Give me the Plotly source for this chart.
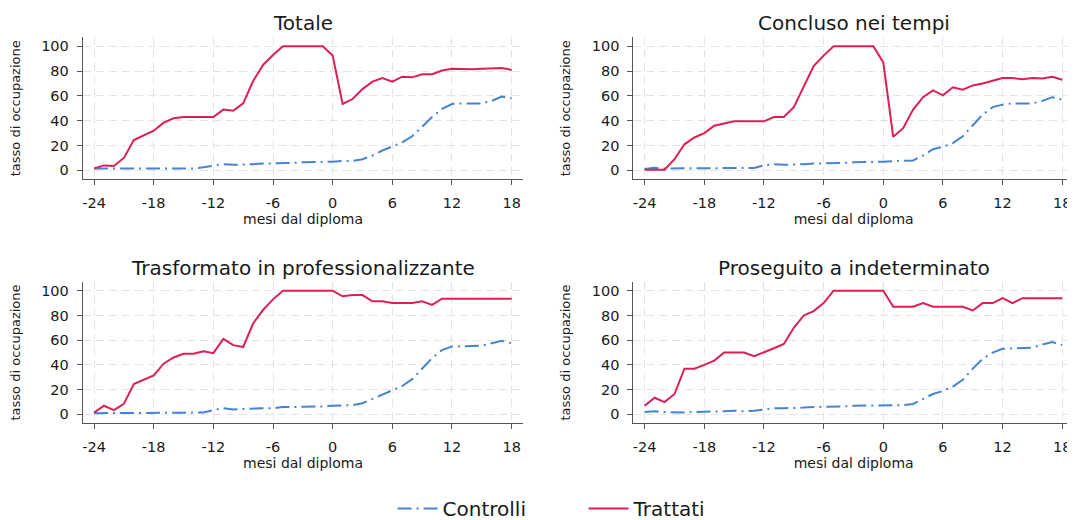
import plotly.graph_objects as go
from plotly.subplots import make_subplots

# ── DATA ─────────────────────────────────────────────────────────────────
MONTHS = list(range(-24, 19))
TITLES = ['Totale', 'Concluso nei tempi',
          'Trasformato in professionalizzante', 'Proseguito a indeterminato']
X_TICKS = [-24, -18, -12, -6, 0, 6, 12, 18]
X_TICKTEXT = ['-24', '-18', '-12', '-6', '0', '6', '12', '18']
Y_TICKS = [0, 20, 40, 60, 80, 100]

# Totale
TOT_TRATTATI = [1.5, 4, 3.5, 10, 24.5, 28.5, 32, 38.5, 42, 43, 43, 43, 43, 49, 48,
                54, 72, 85, 93, 100, 100, 100, 100, 100, 92.5, 53.5, 57.5, 65.5,
                71.5, 74.5, 71.5, 75.5, 75, 77.5, 77.5, 80.5, 82, 81.5, 81.5, 82,
                82, 82.5, 81]
TOT_CONTROLLI = [1.5, 1.5, 1, 1, 1, 1.5, 1.5, 1.5, 1.5, 1.5, 1.5, 2.5, 4, 5, 4.5,
                 4.5, 5, 5.5, 5.5, 6, 6, 6.5, 6.5, 6.5, 7, 7.5, 7.5, 9, 12, 16, 19,
                 22.5, 27.5, 35, 43, 49.5, 53.5, 54, 54, 54, 56, 59.5, 58]

# Concluso nei tempi
CON_TRATTATI = [0.5, 0.5, 0.5, 9, 21, 26.5, 30, 36, 37.5, 39.5, 39.5, 39.5, 39.5,
                43, 43, 51, 67, 84, 92.5, 100, 100, 100, 100, 100, 87, 27, 34, 49,
                59, 64.5, 60.5, 67, 65, 68.5, 70, 72, 74.5, 74.5, 73.5, 74.5, 74,
                75.5, 73]
CON_CONTROLLI = [1, 2, 1.5, 1.5, 1.5, 1.5, 2, 2, 2, 2, 1.5, 2, 4, 5, 4.5, 4.5, 5,
                 5.5, 5.5, 6, 6, 6.5, 6.5, 6.5, 7, 7.5, 7.5, 8, 12, 17, 19, 22,
                 27.5, 36, 45, 51, 53, 54, 54, 54, 56, 59, 57]

# Trasformato in professionalizzante
TRA_TRATTATI = [1.5, 7, 3.5, 8.5, 24.5, 28, 31.5, 41, 46, 49, 49, 51, 49.5, 61, 56,
                54.5, 73.5, 84.5, 93, 100, 100, 100, 100, 100, 100, 95.5, 96.5,
                96.5, 91.5, 91.5, 90, 90, 90, 91.5, 88.5, 93.5, 93.5, 93.5, 93.5,
                93.5, 93.5, 93.5, 93.5]
TRA_CONTROLLI = [1, 1, 1, 1, 1, 1, 1, 1, 1.5, 1.5, 1.5, 1.5, 3.5, 5, 4, 4.5, 5, 5,
                 5, 6, 6, 6, 6, 6.5, 7, 7.5, 7.5, 9, 12.5, 16.5, 20, 23, 28.5, 37,
                 45.5, 52, 55, 55, 55, 55.5, 57.5, 59.5, 57.5]

# Proseguito a indeterminato
PRO_TRATTATI = [7, 13.5, 10, 16.5, 37, 37, 40, 43.5, 50, 50, 50, 47, 50, 53.5, 57,
                70, 80, 83.5, 90, 100, 100, 100, 100, 100, 100, 87, 87, 87, 90, 87,
                87, 87, 87, 84, 90, 90, 94, 90, 94, 94, 94, 94, 94]
PRO_CONTROLLI = [2, 2.5, 2, 1.5, 1.5, 2, 2, 2, 2.5, 3, 2.5, 3, 4, 5, 5, 5, 5.5, 6,
                 6, 6, 6.5, 7, 7, 7, 7.5, 7.5, 7.5, 8.5, 12.5, 16.5, 19, 22.5, 28,
                 37, 45, 50, 53, 53.5, 53.5, 54, 56.5, 58.5, 56]

PANELS = [
    (TOT_CONTROLLI, TOT_TRATTATI),
    (CON_CONTROLLI, CON_TRATTATI),
    (TRA_CONTROLLI, TRA_TRATTATI),
    (PRO_CONTROLLI, PRO_TRATTATI),
]

# ── STYLE ────────────────────────────────────────────────────────────────
FONT = 'DejaVu Sans'
RED = '#DC1F55'
BLUE = '#4683D2'
AXIS_COL = '#555555'
GRID_COL = '#e4e4e4'
TXT = '#1a1a1a'

fig = make_subplots(rows=2, cols=2, subplot_titles=TITLES)

for i, (ctrl, trat) in enumerate(PANELS):
    r, c = i // 2 + 1, i % 2 + 1
    fig.add_trace(go.Scatter(
        x=MONTHS, y=ctrl, mode='lines', name='Controlli',
        line=dict(color=BLUE, width=2, dash='14px,5px,2px,5px'),
        showlegend=(i == 0)), row=r, col=c)
    fig.add_trace(go.Scatter(
        x=MONTHS, y=trat, mode='lines', name='Trattati',
        line=dict(color=RED, width=2),
        showlegend=(i == 0)), row=r, col=c)

# the page body adds an 8px offset, domains are set to compensate
x_domains = [[0.0695, 0.4794], [0.5817, 0.9916]]
y_domains = [[0.6706, 0.9437], [0.2013, 0.4737]]

for i in range(4):
    r, c = i // 2, i % 2
    fig.update_xaxes(
        domain=x_domains[c], range=[-25.14, 19.18],
        tickvals=X_TICKS, ticktext=X_TICKTEXT,
        showgrid=True, gridcolor=GRID_COL, gridwidth=1, griddash='8px,5px',
        showline=True, linecolor=AXIS_COL, linewidth=1,
        ticks='outside', ticklen=5, tickcolor=AXIS_COL, ticklabelstandoff=5,
        zeroline=False, automargin=False,
        tickfont=dict(family=FONT, size=14.5, color=TXT),
        title=dict(text='mesi dal diploma', standoff=4,
                   font=dict(family=FONT, size=14, color=TXT)),
        row=r + 1, col=c + 1)
    fig.update_yaxes(
        domain=y_domains[r], range=[-7.2, 107.3],
        tickvals=Y_TICKS,
        showgrid=True, gridcolor=GRID_COL, gridwidth=1, griddash='8px,5px',
        showline=True, linecolor=AXIS_COL, linewidth=1,
        ticks='outside', ticklen=5, tickcolor=AXIS_COL, ticklabelstandoff=5,
        zeroline=False, automargin=False,
        tickfont=dict(family=FONT, size=14.5, color=TXT),
        title=dict(text='tasso di occupazione', standoff=18,
                   font=dict(family=FONT, size=13, color=TXT)),
        row=r + 1, col=c + 1)

# subplot titles centred over each plot area
title_y = [0.9706, 0.9706, 0.5, 0.5]
for i, ann in enumerate(fig.layout.annotations):
    c = i % 2
    ann.update(x=sum(x_domains[c]) / 2, y=title_y[i], yanchor='middle',
               font=dict(family=FONT, size=20, color=TXT))

fig.update_layout(
    width=1075, height=520,
    margin=dict(l=0, r=0, t=0, b=0),
    plot_bgcolor='white', paper_bgcolor='white',
    font=dict(family=FONT, color=TXT),
    legend=dict(orientation='h', x=0.5354, xanchor='center', y=0,
                yanchor='bottom', font=dict(family=FONT, size=20),
                itemwidth=40, entrywidth=136),
)

fig.write_html('out.html')
